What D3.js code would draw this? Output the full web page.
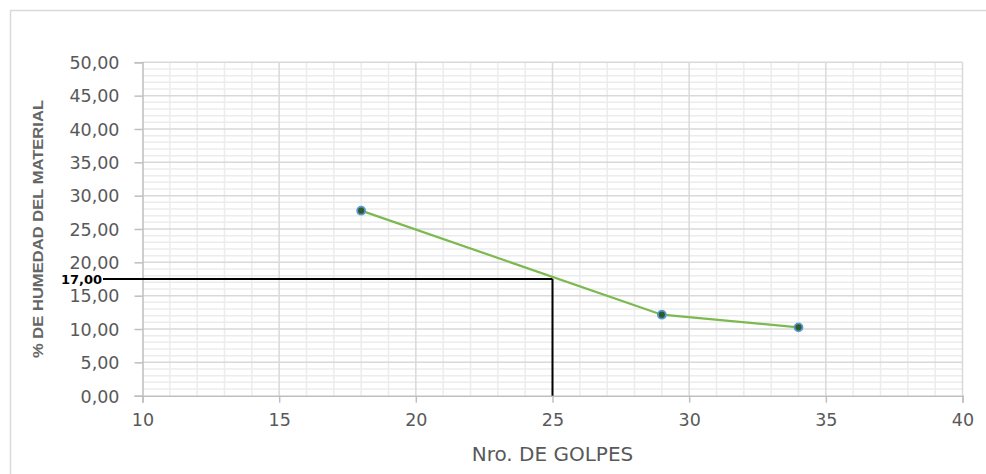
<!DOCTYPE html>
<html>
<head>
<meta charset="utf-8">
<script src="https://cdn.jsdelivr.net/npm/d3@7/dist/d3.min.js"></script>
<style>
  html, body { margin: 0; padding: 0; background: #ffffff; }
  svg { display: block; }
</style>
</head>
<body>
<div id="chart"></div>
<script>
// ---- data ----
const golpes = [18, 29, 34];
const humedad = [27.75, 12.15, 10.25];
const xTicks = [10, 15, 20, 25, 30, 35, 40];
const yTicks = [0, 5, 10, 15, 20, 25, 30, 35, 40, 45, 50];
const refGolpes = 25;
const refHumedad = 17.5;
const refLabel = "17,00";
const xTitle = "Nro. DE GOLPES";
const yTitle = "% DE HUMEDAD DEL MATERIAL";

// ---- layout ----
const W = 986, H = 474;
const plot = { left: 142.5, right: 962.5, top: 62.3, bottom: 395.7 };

const svg = d3.select("#chart").append("svg")
  .attr("width", W).attr("height", H);

// chart frame
svg.append("rect")
  .attr("x", 10.5).attr("y", 10.5)
  .attr("width", W + 20).attr("height", H + 20)
  .attr("fill", "#ffffff").attr("stroke", "#d9d9d9").attr("stroke-width", 1.5);

const x = d3.scaleLinear().domain([10, 40]).range([plot.left, plot.right]);
const y = d3.scaleLinear().domain([0, 50]).range([plot.bottom, plot.top]);

const minorX = d3.range(10, 41, 1);
const minorY = d3.range(0, 51, 1);

const grid = svg.append("g");
// minor gridlines
grid.selectAll("line.mx").data(minorX.filter(v => v % 5 !== 0)).join("line")
  .attr("x1", d => x(d)).attr("x2", d => x(d))
  .attr("y1", plot.top).attr("y2", plot.bottom)
  .attr("stroke", "#ececec").attr("stroke-width", 1.5);
grid.selectAll("line.my").data(minorY.filter(v => v % 5 !== 0)).join("line")
  .attr("x1", plot.left).attr("x2", plot.right)
  .attr("y1", d => y(d)).attr("y2", d => y(d))
  .attr("stroke", "#ececec").attr("stroke-width", 1.5);
// major gridlines
grid.selectAll("line.Mx").data(xTicks.slice(1)).join("line")
  .attr("x1", d => x(d)).attr("x2", d => x(d))
  .attr("y1", plot.top).attr("y2", plot.bottom)
  .attr("stroke", "#d9d9d9").attr("stroke-width", 1.5);
grid.selectAll("line.My").data(yTicks.slice(1)).join("line")
  .attr("x1", plot.left).attr("x2", plot.right)
  .attr("y1", d => y(d)).attr("y2", d => y(d))
  .attr("stroke", "#d9d9d9").attr("stroke-width", 1.5);

const fmt = d => d.toFixed(2).replace(".", ",");

// axes
const xAxis = svg.append("g")
  .attr("transform", `translate(0,${plot.bottom})`)
  .call(d3.axisBottom(x).tickValues(xTicks).tickSize(7).tickPadding(11).tickFormat(d3.format("d")));
const yAxis = svg.append("g")
  .attr("transform", `translate(${plot.left},0)`)
  .call(d3.axisLeft(y).tickValues(yTicks).tickSize(8).tickPadding(15).tickFormat(fmt));

[xAxis, yAxis].forEach(a => {
  a.select(".domain").attr("stroke", "#bfbfbf").attr("stroke-width", 1.5);
  a.selectAll(".tick line").attr("stroke", "#bfbfbf").attr("stroke-width", 1.5);
  a.selectAll(".tick text")
    .attr("fill", "#595959")
    .style("font-family", "'DejaVu Sans', sans-serif")
    .style("font-size", "17.5px");
});
yAxis.selectAll(".tick text").attr("dy", "0.36em");

// reference lines
svg.append("line")
  .attr("x1", 103).attr("x2", x(refGolpes))
  .attr("y1", y(refHumedad)).attr("y2", y(refHumedad))
  .attr("stroke", "#000").attr("stroke-width", 2);
svg.append("line")
  .attr("x1", x(refGolpes)).attr("x2", x(refGolpes))
  .attr("y1", y(refHumedad)).attr("y2", plot.bottom)
  .attr("stroke", "#000").attr("stroke-width", 2);
svg.append("text")
  .attr("x", 102).attr("y", y(refHumedad) + 5)
  .attr("text-anchor", "end")
  .attr("fill", "#000")
  .style("font-family", "'DejaVu Sans', sans-serif")
  .style("font-weight", "bold")
  .style("font-size", "13px")
  .text(refLabel);

// series
const pts = golpes.map((g, i) => [g, humedad[i]]);
svg.append("path")
  .datum(pts)
  .attr("d", d3.line().x(d => x(d[0])).y(d => y(d[1])))
  .attr("fill", "none").attr("stroke", "#7cb950").attr("stroke-width", 2.2);
svg.selectAll("circle.pt").data(pts).join("circle")
  .attr("cx", d => x(d[0])).attr("cy", d => y(d[1]))
  .attr("r", 4).attr("fill", "#2f5a2a")
  .attr("stroke", "#5b9bd5").attr("stroke-width", 1.8);

// titles
svg.append("text")
  .attr("x", (plot.left + plot.right) / 2).attr("y", 461)
  .attr("text-anchor", "middle")
  .attr("fill", "#595959")
  .style("font-family", "'DejaVu Sans', sans-serif")
  .style("font-size", "20px")
  .text(xTitle);

svg.append("text")
  .attr("transform", `translate(43,${(plot.top + plot.bottom) / 2}) rotate(-90)`)
  .attr("text-anchor", "middle")
  .attr("fill", "#666666")
  .attr("textLength", 258).attr("lengthAdjust", "spacingAndGlyphs")
  .style("font-family", "'Liberation Sans Narrow', 'Liberation Sans', sans-serif")
  .style("font-weight", "bold")
  .style("font-size", "14.5px")
  .text(yTitle);
</script>
</body>
</html>
